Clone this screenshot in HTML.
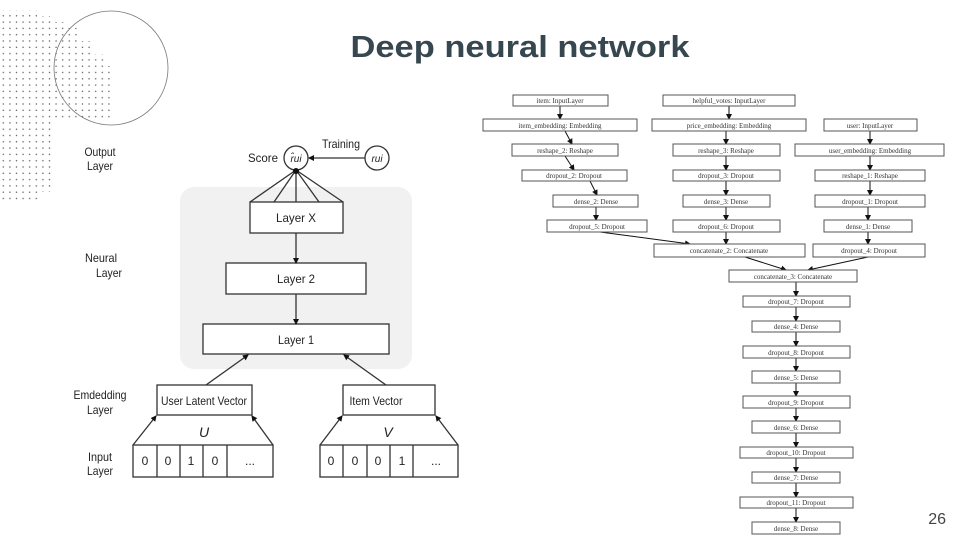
<!DOCTYPE html>
<html><head><meta charset="utf-8"><style>
html,body{margin:0;padding:0;background:#fff;}
svg{display:block;}
.r text{font-family:"Liberation Serif",serif;font-size:7px;fill:#333;text-anchor:middle;}
.r rect{fill:#fff;stroke:#555;stroke-width:1;}
.l text{font-family:"Liberation Sans",sans-serif;fill:#222;}
</style></head><body>
<svg width="960" height="540" viewBox="0 0 960 540" xmlns="http://www.w3.org/2000/svg">
<defs>
<pattern id="dots" x="0" y="0" width="6.6" height="6.3" patternUnits="userSpaceOnUse">
<circle cx="3.3" cy="3.2" r="0.75" fill="#666"/>
</pattern>
<marker id="ah" markerWidth="6" markerHeight="6" refX="5" refY="3" orient="auto" markerUnits="userSpaceOnUse"><path d="M0,0 L6,3 L0,6 z" fill="#111"/></marker>
</defs>
<polygon points="0,10 38,10 38,16 51,16 51,22 64,22 64,28 78,28 78,41 91,41 91,54 104,54 104,66 111,66 111,122 51,122 51,192 38,192 38,200 0,200" fill="url(#dots)"/>
<circle cx="111" cy="68" r="57" fill="none" stroke="#777" stroke-width="0.8"/>
<text x="520" y="57" text-anchor="middle" font-family="Liberation Sans,sans-serif" font-weight="bold" font-size="31" fill="#37474f" textLength="339" lengthAdjust="spacingAndGlyphs">Deep neural network</text>
<text x="946" y="524" text-anchor="end" font-family="Liberation Sans,sans-serif" font-size="16" fill="#444">26</text>

<!-- left diagram -->
<g class="l">
<rect x="180" y="187" width="232" height="182" rx="14" fill="#f1f1f1"/>
<g fill="#fff" stroke="#333" stroke-width="1.3">
<rect x="250" y="202" width="93" height="31"/>
<rect x="226" y="263" width="140" height="31"/>
<rect x="203" y="324" width="186" height="30"/>
<rect x="157" y="385" width="95" height="30"/>
<rect x="343" y="385" width="92" height="30"/>
<rect x="133" y="445" width="140" height="32"/>
<rect x="320" y="445" width="138" height="32"/>
<circle cx="296" cy="158" r="12"/>
<circle cx="377" cy="158" r="12"/>
</g>
<g stroke="#333" stroke-width="1.3" fill="none">
<path d="M157,445V477M180,445V477M203,445V477M227,445V477"/>
<path d="M343,445V477M367,445V477M390,445V477M413,445V477"/>
<line x1="296" y1="233" x2="296" y2="263" marker-end="url(#ah)"/>
<line x1="296" y1="294" x2="296" y2="324" marker-end="url(#ah)"/>
<line x1="206" y1="385" x2="248" y2="355" marker-end="url(#ah)"/>
<line x1="386" y1="385" x2="344" y2="355" marker-end="url(#ah)"/>
<line x1="133" y1="445" x2="156" y2="416" marker-end="url(#ah)"/>
<line x1="273" y1="445" x2="252" y2="416" marker-end="url(#ah)"/>
<line x1="320" y1="445" x2="342" y2="416" marker-end="url(#ah)"/>
<line x1="458" y1="445" x2="436" y2="416" marker-end="url(#ah)"/>
<line x1="365" y1="158" x2="309" y2="158" marker-end="url(#ah)"/>
<path d="M250,202L296,170L343,202M274,202L296,170L319,202M296,202V170"/>
</g>
<circle cx="296" cy="171" r="3" fill="#111"/>
<g font-size="12" text-anchor="middle">
<text x="296" y="222" textLength="40" lengthAdjust="spacingAndGlyphs">Layer X</text>
<text x="296" y="283" textLength="38" lengthAdjust="spacingAndGlyphs">Layer 2</text>
<text x="296" y="344" textLength="36" lengthAdjust="spacingAndGlyphs">Layer 1</text>
<text x="204" y="405" textLength="86" lengthAdjust="spacingAndGlyphs">User Latent Vector</text>
<text x="376" y="405" textLength="53" lengthAdjust="spacingAndGlyphs">Item Vector</text>
<text x="145" y="465">0</text><text x="168" y="465">0</text><text x="191" y="465">1</text><text x="215" y="465">0</text><text x="250" y="465">...</text>
<text x="331" y="465">0</text><text x="355" y="465">0</text><text x="378" y="465">0</text><text x="402" y="465">1</text><text x="436" y="465">...</text>
<text x="263" y="162" textLength="30" lengthAdjust="spacingAndGlyphs">Score</text>
<text x="341" y="148" textLength="38" lengthAdjust="spacingAndGlyphs">Training</text>
<text x="100" y="156" textLength="31" lengthAdjust="spacingAndGlyphs">Output</text><text x="100" y="170" textLength="26" lengthAdjust="spacingAndGlyphs">Layer</text>
<text x="101" y="262" textLength="32" lengthAdjust="spacingAndGlyphs">Neural</text><text x="109" y="277" textLength="26" lengthAdjust="spacingAndGlyphs">Layer</text>
<text x="100" y="399" textLength="53" lengthAdjust="spacingAndGlyphs">Emdedding</text><text x="100" y="414" textLength="26" lengthAdjust="spacingAndGlyphs">Layer</text>
<text x="100" y="461" textLength="24" lengthAdjust="spacingAndGlyphs">Input</text><text x="100" y="475" textLength="26" lengthAdjust="spacingAndGlyphs">Layer</text>
</g>
<text x="204" y="437" font-family="Liberation Serif,serif" font-style="italic" font-size="14" text-anchor="middle">U</text>
<text x="388" y="437" font-family="Liberation Serif,serif" font-style="italic" font-size="14" text-anchor="middle">V</text>
<text x="296" y="162" font-family="Liberation Serif,serif" font-style="italic" font-size="10" text-anchor="middle">r̂ui</text>
<text x="377" y="162" font-family="Liberation Serif,serif" font-style="italic" font-size="10" text-anchor="middle">rui</text>
</g>

<!-- right network -->
<g class="r">
<g stroke="#111" stroke-width="1" fill="none">
<line x1="560" y1="106" x2="560" y2="119" marker-end="url(#ah)"/>
<line x1="729" y1="106" x2="729" y2="119" marker-end="url(#ah)"/>
<line x1="565" y1="131" x2="572" y2="144" marker-end="url(#ah)"/>
<line x1="726" y1="131" x2="726" y2="144" marker-end="url(#ah)"/>
<line x1="870" y1="131" x2="870" y2="144" marker-end="url(#ah)"/>
<line x1="565" y1="156" x2="574" y2="170" marker-end="url(#ah)"/>
<line x1="726" y1="156" x2="726" y2="170" marker-end="url(#ah)"/>
<line x1="870" y1="156" x2="870" y2="170" marker-end="url(#ah)"/>
<line x1="590" y1="181" x2="597" y2="195" marker-end="url(#ah)"/>
<line x1="726" y1="181" x2="726" y2="195" marker-end="url(#ah)"/>
<line x1="870" y1="181" x2="870" y2="195" marker-end="url(#ah)"/>
<line x1="596" y1="207" x2="596" y2="220" marker-end="url(#ah)"/>
<line x1="726" y1="207" x2="726" y2="220" marker-end="url(#ah)"/>
<line x1="868" y1="207" x2="868" y2="220" marker-end="url(#ah)"/>
<line x1="868" y1="232" x2="868" y2="244" marker-end="url(#ah)"/>
<line x1="726" y1="232" x2="726" y2="244" marker-end="url(#ah)"/>
<line x1="600" y1="232" x2="690" y2="244" marker-end="url(#ah)"/>
<line x1="745" y1="257" x2="786" y2="270" marker-end="url(#ah)"/>
<line x1="868" y1="257" x2="808" y2="270" marker-end="url(#ah)"/>
<line x1="796" y1="282" x2="796" y2="296" marker-end="url(#ah)"/>
<line x1="796" y1="307" x2="796" y2="321" marker-end="url(#ah)"/>
<line x1="796" y1="332" x2="796" y2="346" marker-end="url(#ah)"/>
<line x1="796" y1="358" x2="796" y2="371" marker-end="url(#ah)"/>
<line x1="796" y1="383" x2="796" y2="396" marker-end="url(#ah)"/>
<line x1="796" y1="408" x2="796" y2="421" marker-end="url(#ah)"/>
<line x1="796" y1="433" x2="796" y2="447" marker-end="url(#ah)"/>
<line x1="796" y1="458" x2="796" y2="472" marker-end="url(#ah)"/>
<line x1="796" y1="483" x2="796" y2="497" marker-end="url(#ah)"/>
<line x1="796" y1="508" x2="796" y2="522" marker-end="url(#ah)"/>
</g>
<rect x="513" y="95" width="95" height="11"/><text x="560" y="103">item: InputLayer</text>
<rect x="663" y="95" width="132" height="11"/><text x="729" y="103">helpful_votes: InputLayer</text>
<rect x="483" y="119" width="154" height="12"/><text x="560" y="128">item_embedding: Embedding</text>
<rect x="652" y="119" width="154" height="12"/><text x="729" y="128">price_embedding: Embedding</text>
<rect x="824" y="119" width="93" height="12"/><text x="870" y="128">user: InputLayer</text>
<rect x="512" y="144" width="106" height="12"/><text x="565" y="153">reshape_2: Reshape</text>
<rect x="673" y="144" width="107" height="12"/><text x="726" y="153">reshape_3: Reshape</text>
<rect x="795" y="144" width="149" height="12"/><text x="870" y="153">user_embedding: Embedding</text>
<rect x="522" y="170" width="105" height="11"/><text x="574" y="178">dropout_2: Dropout</text>
<rect x="673" y="170" width="107" height="11"/><text x="726" y="178">dropout_3: Dropout</text>
<rect x="815" y="170" width="110" height="11"/><text x="870" y="178">reshape_1: Reshape</text>
<rect x="553" y="195" width="85" height="12"/><text x="596" y="204">dense_2: Dense</text>
<rect x="683" y="195" width="87" height="12"/><text x="726" y="204">dense_3: Dense</text>
<rect x="815" y="195" width="110" height="12"/><text x="870" y="204">dropout_1: Dropout</text>
<rect x="547" y="220" width="100" height="12"/><text x="597" y="229">dropout_5: Dropout</text>
<rect x="673" y="220" width="107" height="12"/><text x="726" y="229">dropout_6: Dropout</text>
<rect x="824" y="220" width="88" height="12"/><text x="868" y="229">dense_1: Dense</text>
<rect x="654" y="244" width="151" height="13"/><text x="729" y="253">concatenate_2: Concatenate</text>
<rect x="813" y="244" width="112" height="13"/><text x="869" y="253">dropout_4: Dropout</text>
<rect x="729" y="270" width="128" height="12"/><text x="793" y="279">concatenate_3: Concatenate</text>
<rect x="743" y="296" width="107" height="11"/><text x="796" y="304">dropout_7: Dropout</text>
<rect x="752" y="321" width="88" height="11"/><text x="796" y="329">dense_4: Dense</text>
<rect x="743" y="346" width="107" height="12"/><text x="796" y="355">dropout_8: Dropout</text>
<rect x="752" y="371" width="88" height="12"/><text x="796" y="380">dense_5: Dense</text>
<rect x="743" y="396" width="107" height="12"/><text x="796" y="405">dropout_9: Dropout</text>
<rect x="752" y="421" width="88" height="12"/><text x="796" y="430">dense_6: Dense</text>
<rect x="740" y="447" width="113" height="11"/><text x="796" y="455">dropout_10: Dropout</text>
<rect x="752" y="472" width="88" height="11"/><text x="796" y="480">dense_7: Dense</text>
<rect x="740" y="497" width="113" height="11"/><text x="796" y="505">dropout_11: Dropout</text>
<rect x="752" y="522" width="88" height="12"/><text x="796" y="531">dense_8: Dense</text>
</g>
</svg>
</body></html>
